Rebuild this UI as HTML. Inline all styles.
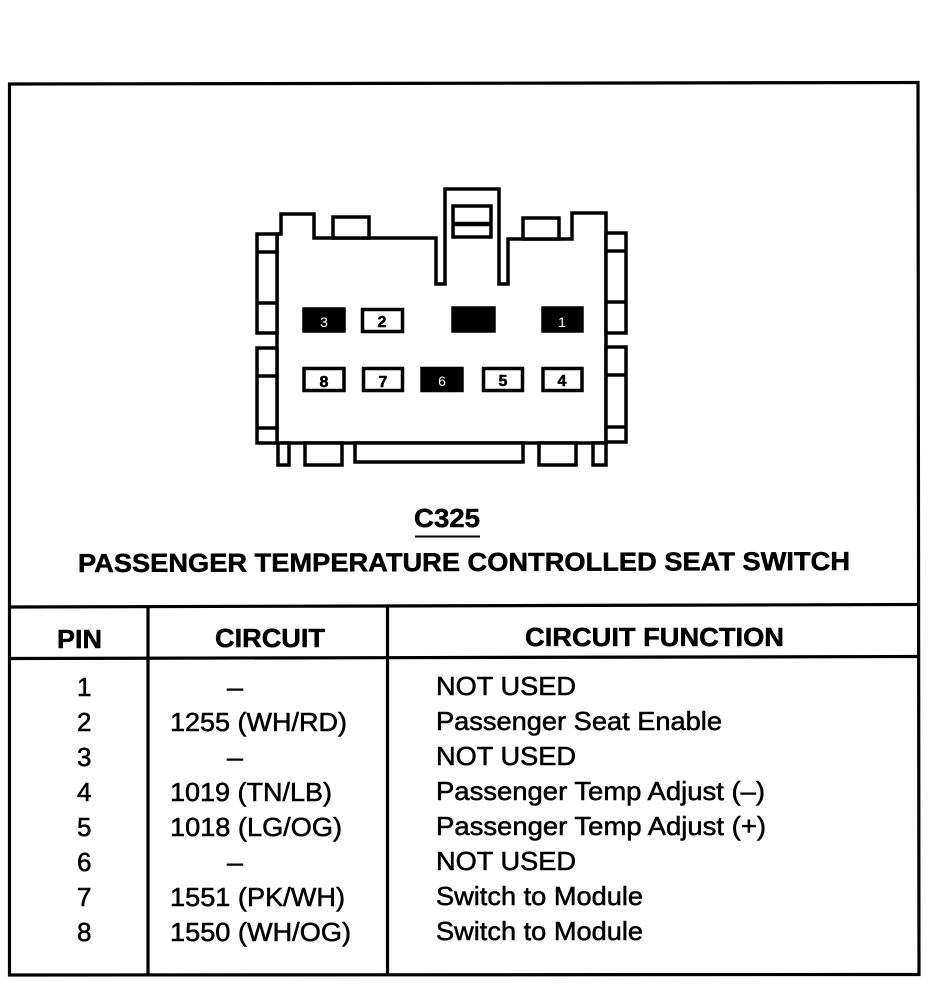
<!DOCTYPE html>
<html>
<head>
<meta charset="utf-8">
<style>
html,body{margin:0;padding:0;background:#fff;width:950px;height:992px;overflow:hidden}
svg{display:block}
text{font-family:"Liberation Sans",sans-serif;fill:#000;stroke:#000;stroke-width:.55px}
.b{font-weight:bold;stroke-width:.5px}
.n{font-size:16px;font-weight:bold;text-anchor:middle}
.w{font-size:14px;fill:#fff;stroke:none;text-anchor:middle}
</style>
</head>
<body>
<svg width="950" height="992" viewBox="0 0 950 992" xmlns="http://www.w3.org/2000/svg">
<g fill="none" stroke="#000" stroke-width="3.2">
<path d="M9.500 84 L918 82.500 L919 974.500 L9.500 975 Z"/>
<path d="M10 607 L918 604.500"/>
<path d="M10 658.500 L918 656.500"/>
<path d="M148 607 V976"/>
<path d="M387.500 606 V976"/>
</g>
<g fill="#fff" stroke="#000" stroke-width="3.500">
<path d="M281 234 V214 H314 V238 H436 V284 H445 V189 H499 V284 H508 V239 H572 V213 H606 V443 H277 V234 Z"/>
<rect x="333" y="217" width="36" height="21"/>
<rect x="523" y="218" width="36" height="21"/>
<rect x="453" y="206" width="38" height="31"/>
<path d="M453 224 H491" stroke-width="4.500"/>
<rect x="257" y="234" width="20" height="99"/>
<path d="M257 252 H277 M257 303 H277"/>
<rect x="257" y="348" width="20" height="95"/>
<path d="M257 376 H277 M257 428 H277"/>
<rect x="606" y="233" width="20" height="100"/>
<path d="M606 251 H626 M606 302 H626"/>
<rect x="606" y="347" width="20" height="95"/>
<path d="M606 375 H626 M606 427 H626"/>
<rect x="278" y="443" width="11" height="22"/>
<rect x="305" y="443" width="37" height="22"/>
<rect x="355" y="443" width="168" height="19"/>
<rect x="539" y="443" width="37" height="22"/>
<rect x="593" y="443" width="13" height="22"/>
<rect x="304" y="309" width="40" height="22" fill="#000"/>
<rect x="362.500" y="309.500" width="40" height="22"/>
<rect x="453" y="308" width="41" height="23" fill="#000"/>
<rect x="543" y="308" width="39" height="23" fill="#000"/>
<rect x="304" y="368.500" width="40" height="22"/>
<rect x="363.500" y="368.500" width="39" height="22"/>
<rect x="422" y="368.500" width="40" height="22" fill="#000"/>
<rect x="483.500" y="368.500" width="39" height="22"/>
<rect x="543" y="368.500" width="39" height="22"/>
</g>
<text class="w" x="324" y="327">3</text>
<text class="n" x="382" y="327">2</text>
<text class="w" x="562" y="327">1</text>
<text class="n" x="324" y="387">8</text>
<text class="n" x="383" y="387">7</text>
<text class="w" x="442" y="386">6</text>
<text class="n" x="503" y="386">5</text>
<text class="n" x="562" y="386">4</text>

<text class="b" x="414" y="527" font-size="26" textLength="66" lengthAdjust="spacingAndGlyphs">C325</text>
<path d="M415 536.500 H480" stroke="#000" stroke-width="2"/>
<text class="b" x="78" y="572" font-size="26" textLength="772" lengthAdjust="spacingAndGlyphs" transform="rotate(-0.15 78 572)">PASSENGER TEMPERATURE CONTROLLED SEAT SWITCH</text>

<text class="b" x="57" y="648" font-size="26" textLength="45" lengthAdjust="spacingAndGlyphs">PIN</text>
<text class="b" x="215" y="647" font-size="26" textLength="110" lengthAdjust="spacingAndGlyphs">CIRCUIT</text>
<text class="b" x="525" y="646" font-size="26" textLength="259" lengthAdjust="spacingAndGlyphs">CIRCUIT FUNCTION</text>

<g font-size="26">
<text x="77" y="696">1</text>
<text x="77" y="731">2</text>
<text x="77" y="766">3</text>
<text x="77" y="801">4</text>
<text x="77" y="836">5</text>
<text x="77" y="871">6</text>
<text x="77" y="906">7</text>
<text x="77" y="941">8</text>

<text x="227" y="696" textLength="16" lengthAdjust="spacingAndGlyphs">–</text>
<text x="170" y="731" textLength="177" lengthAdjust="spacingAndGlyphs">1255 (WH/RD)</text>
<text x="227" y="766" textLength="16" lengthAdjust="spacingAndGlyphs">–</text>
<text x="170" y="801" textLength="162" lengthAdjust="spacingAndGlyphs">1019 (TN/LB)</text>
<text x="170" y="836" textLength="172" lengthAdjust="spacingAndGlyphs">1018 (LG/OG)</text>
<text x="227" y="871" textLength="16" lengthAdjust="spacingAndGlyphs">–</text>
<text x="170" y="906" textLength="175" lengthAdjust="spacingAndGlyphs">1551 (PK/WH)</text>
<text x="170" y="941" textLength="181" lengthAdjust="spacingAndGlyphs">1550 (WH/OG)</text>

<text x="436" y="695" textLength="140" lengthAdjust="spacingAndGlyphs">NOT USED</text>
<text x="436" y="730" textLength="286" lengthAdjust="spacingAndGlyphs">Passenger Seat Enable</text>
<text x="436" y="765" textLength="140" lengthAdjust="spacingAndGlyphs">NOT USED</text>
<text x="436" y="800" textLength="329" lengthAdjust="spacingAndGlyphs">Passenger Temp Adjust (–)</text>
<text x="436" y="835" textLength="330" lengthAdjust="spacingAndGlyphs">Passenger Temp Adjust (+)</text>
<text x="436" y="870" textLength="140" lengthAdjust="spacingAndGlyphs">NOT USED</text>
<text x="436" y="905" textLength="207" lengthAdjust="spacingAndGlyphs">Switch to Module</text>
<text x="436" y="940" textLength="207" lengthAdjust="spacingAndGlyphs">Switch to Module</text>
</g>
</svg>
</body>
</html>
